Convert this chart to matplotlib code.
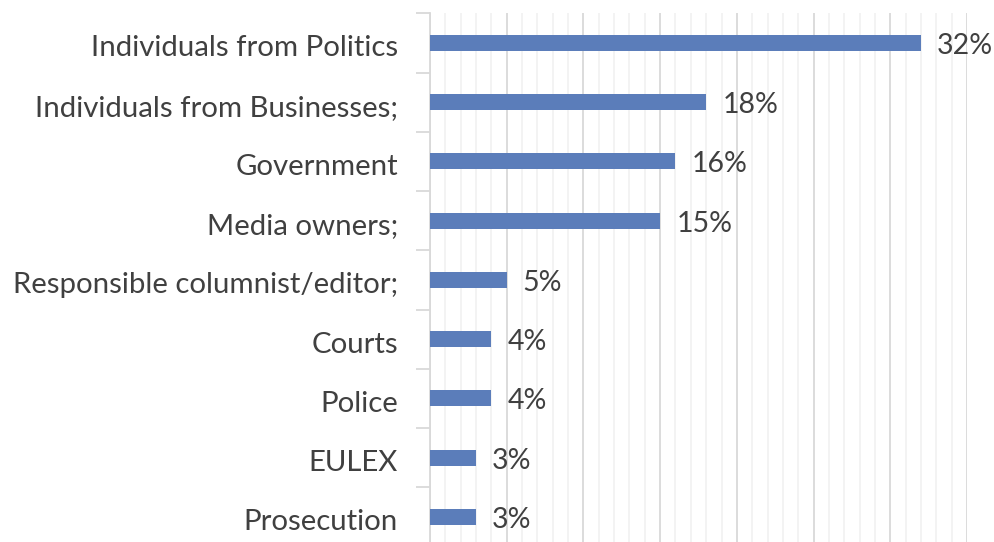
import matplotlib
matplotlib.use("Agg")
import matplotlib.pyplot as plt
from matplotlib.ticker import MultipleLocator

categories = [
    "Individuals from Politics",
    "Individuals from Businesses;",
    "Government",
    "Media owners;",
    "Responsible columnist/editor;",
    "Courts",
    "Police",
    "EULEX",
    "Prosecution",
]
values = [32, 18, 16, 15, 5, 4, 4, 3, 3]
value_labels = ["32%", "18%", "16%", "15%", "5%", "4%", "4%", "3%", "3%"]

plt.rcParams["font.family"] = ["Lato", "DejaVu Sans"]
text_color = "#404040"
bar_color = "#5B7DBA"

fig = plt.figure(figsize=(9.95, 5.42), dpi=100)
ax = fig.add_axes([0.432, -0.0085, 0.540, 0.984])

y = list(range(len(categories)))
ax.barh(y, values, height=0.27, color=bar_color, zorder=3)
for yi, v, lab in zip(y, values, value_labels):
    ax.text(v + 1.05, yi + 0.05, lab, va="center", ha="left", fontsize=20.5, color=text_color)

ax.set_xlim(0, 35)
ax.set_ylim(len(categories) - 0.5, -0.5)
ax.xaxis.set_major_locator(MultipleLocator(5))
ax.xaxis.set_minor_locator(MultipleLocator(1))
ax.grid(which="major", axis="x", color="#D9D9D9", linewidth=1.3, zorder=0)
ax.grid(which="minor", axis="x", color="#F2F2F2", linewidth=1.3, zorder=0)
ax.tick_params(axis="x", which="both", bottom=False, labelbottom=False)

ax.set_yticks([i + 0.05 for i in y])
ax.set_yticklabels(categories, fontsize=21.2, color=text_color)
ax.set_yticks([i + 0.5 for i in range(-1, len(categories))], minor=True)
ax.tick_params(axis="y", which="major", length=0, pad=23)
ax.tick_params(axis="y", which="minor", length=10, width=1.3, color="#D9D9D9")

for side in ("top", "right", "bottom"):
    ax.spines[side].set_visible(False)
ax.spines["left"].set_color("#D9D9D9")
ax.spines["left"].set_linewidth(1.3)

fig.savefig("out.png", dpi=100)
